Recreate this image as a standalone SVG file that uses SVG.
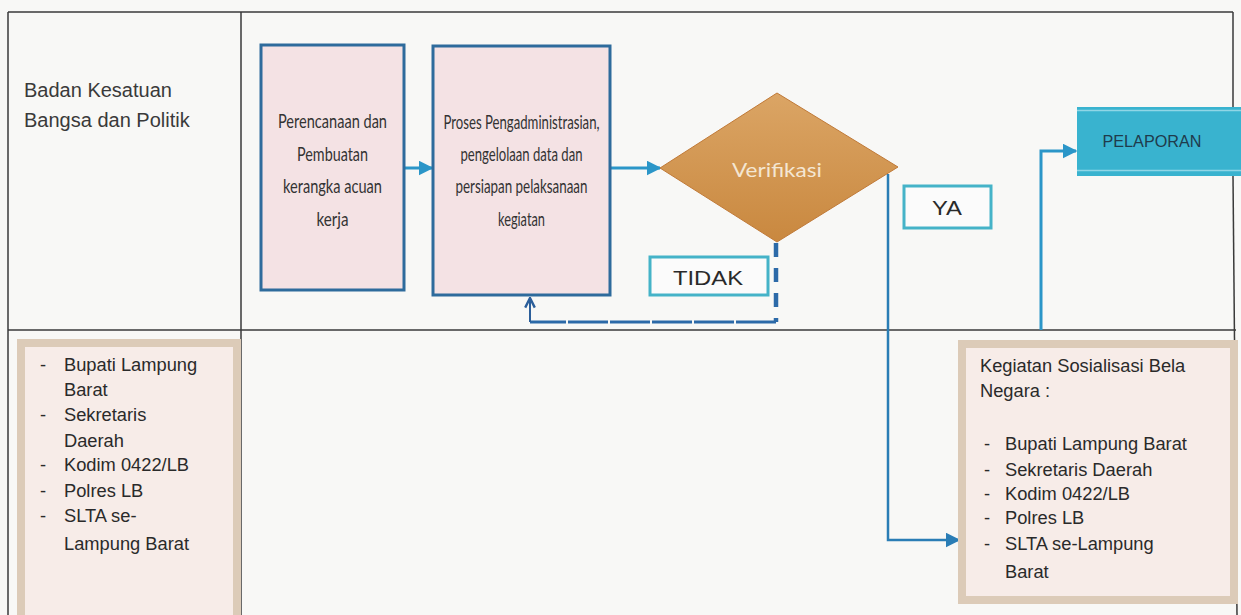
<svg xmlns="http://www.w3.org/2000/svg" width="1241" height="615" viewBox="0 0 1241 615">
<defs>
<style>
.lane{stroke:#3a3a3a;stroke-width:1.5;fill:none}
.proc{fill:#f4e2e4;stroke:#2e6b9c;stroke-width:3}
.ptxt{font-family:Lato,"Open Sans",sans-serif;font-size:20px;fill:#333333;text-anchor:middle}
.lab{fill:#fbfbfb;stroke:#45b3c8;stroke-width:3}
.ltxt{font-family:"Liberation Sans",Arial,sans-serif;font-size:21px;fill:#2a2a2a;text-anchor:middle}
.note{fill:#f7ece8;stroke:#dccbb8;stroke-width:8}
.ntxt{font-family:"Liberation Sans",Arial,sans-serif;font-size:18.3px;fill:#2a2a2a}
.btxt{font-family:"Liberation Sans",Arial,sans-serif;font-size:20px;fill:#3a3a3a}
.flow{stroke:#2b96c8;stroke-width:3;fill:none}
.flow2{stroke:#2a7db5;stroke-width:2.5;fill:none}
</style>
<marker id="ah" viewBox="0 0 10 10" refX="9" refY="5" markerWidth="5" markerHeight="5" orient="auto" markerUnits="strokeWidth">
<path d="M0,0 L10,5 L0,10 Z" fill="#2b96c8"/>
</marker>
<marker id="ah2" viewBox="0 0 10 10" refX="9" refY="5" markerWidth="6" markerHeight="6" orient="auto" markerUnits="strokeWidth">
<path d="M0,0 L10,5 L0,10 Z" fill="#2a7db5"/>
</marker>
<marker id="chev" viewBox="0 0 10 10" refX="9" refY="5" markerWidth="6" markerHeight="6" orient="auto" markerUnits="strokeWidth">
<path d="M1,1 L9,5 L1,9" fill="none" stroke="#2c5f9a" stroke-width="2"/>
</marker>
<linearGradient id="dg" x1="0" y1="0" x2="0" y2="1">
<stop offset="0" stop-color="#dba565"/>
<stop offset="1" stop-color="#c9883f"/>
</linearGradient>
</defs>
<rect x="0" y="0" width="1241" height="615" fill="#f8f8f6"/>

<g id="lanes">
<line class="lane" x1="8" y1="12" x2="1233" y2="12"/>
<line class="lane" x1="8" y1="12" x2="8" y2="615"/>
<line class="lane" x1="241" y1="12" x2="241" y2="615"/>
<line class="lane" x1="8" y1="330" x2="1236" y2="330"/>
<line class="lane" x1="1233" y1="12" x2="1233" y2="107"/>
<line class="lane" x1="1233" y1="176" x2="1237" y2="615"/>
</g>

<g id="lane-label">
<text class="btxt" x="24" y="97">Badan Kesatuan</text>
<text class="btxt" x="24" y="127">Bangsa dan Politik</text>
</g>

<g id="connectors">
<line class="flow" x1="397" y1="168" x2="432" y2="168" marker-end="url(#ah)"/>
<line class="flow" x1="611" y1="168" x2="660" y2="168" marker-end="url(#ah)"/>
<line x1="776" y1="243" x2="776" y2="322" stroke="#2c6aa8" stroke-width="4.5" stroke-dasharray="14,11"/>
<path d="M776,322 L530,322" stroke="#2c6aa8" stroke-width="3" fill="none" stroke-dasharray="40,2"/>
<path d="M530,322 L530,298" stroke="#2c5f9a" stroke-width="2" fill="none" marker-end="url(#chev)"/>
<polyline class="flow2" points="888,174 888,540 959,540" marker-end="url(#ah2)"/>
<polyline class="flow" points="1041,330 1041,151 1076,151" marker-end="url(#ah)"/>
</g>

<g id="n-perencanaan">
<rect class="proc" x="261" y="45" width="143" height="245"/>
<text class="ptxt" x="332.5" y="128" textLength="109" lengthAdjust="spacingAndGlyphs">Perencanaan dan</text>
<text class="ptxt" x="332.5" y="161" textLength="71" lengthAdjust="spacingAndGlyphs">Pembuatan</text>
<text class="ptxt" x="332.5" y="193" textLength="99" lengthAdjust="spacingAndGlyphs">kerangka acuan</text>
<text class="ptxt" x="332.5" y="226" textLength="32" lengthAdjust="spacingAndGlyphs">kerja</text>
</g>

<g id="n-proses">
<rect class="proc" x="433" y="46" width="177" height="249"/>
<text class="ptxt" x="521.5" y="129" textLength="156" lengthAdjust="spacingAndGlyphs">Proses Pengadministrasian,</text>
<text class="ptxt" x="521.5" y="161" textLength="122" lengthAdjust="spacingAndGlyphs">pengelolaan data dan</text>
<text class="ptxt" x="521.5" y="193" textLength="132" lengthAdjust="spacingAndGlyphs">persiapan pelaksanaan</text>
<text class="ptxt" x="521.5" y="226" textLength="47" lengthAdjust="spacingAndGlyphs">kegiatan</text>
</g>

<g id="n-verifikasi">
<polygon points="660,168 777,93 898,167 777,242" fill="url(#dg)" stroke="#c07a38" stroke-width="1"/>
<text x="777" y="177" font-family="Lato,'Open Sans',sans-serif" font-size="20" fill="#f4e6d2" text-anchor="middle" textLength="90" lengthAdjust="spacingAndGlyphs">Verifikasi</text>
</g>

<g id="n-tidak">
<rect class="lab" x="650" y="257" width="118" height="38"/>
<text class="ltxt" x="708" y="285" textLength="70" lengthAdjust="spacingAndGlyphs">TIDAK</text>
</g>

<g id="n-ya">
<rect class="lab" x="904" y="186" width="87" height="42"/>
<text class="ltxt" x="947" y="215" textLength="30" lengthAdjust="spacingAndGlyphs">YA</text>
</g>

<g id="n-pelaporan">
<rect x="1077" y="107" width="164" height="69" fill="#39b3cf"/>
<line x1="1077" y1="110.5" x2="1241" y2="110.5" stroke="#8fd6e6" stroke-width="1.5"/>
<line x1="1077" y1="170.5" x2="1241" y2="170.5" stroke="#8fd6e6" stroke-width="1.5"/>
<text x="1152" y="147" font-family="'Liberation Sans',Arial,sans-serif" font-size="16" fill="#1f3b4c" text-anchor="middle" textLength="99" lengthAdjust="spacingAndGlyphs">PELAPORAN</text>
</g>

<g id="n-peserta">
<rect class="note" x="21" y="343" width="216" height="280"/>
<text class="ntxt" x="40" y="371">-</text><text class="ntxt" x="64" y="371">Bupati Lampung</text>
<text class="ntxt" x="64" y="396">Barat</text>
<text class="ntxt" x="40" y="421">-</text><text class="ntxt" x="64" y="421">Sekretaris</text>
<text class="ntxt" x="64" y="447">Daerah</text>
<text class="ntxt" x="40" y="471">-</text><text class="ntxt" x="64" y="471">Kodim 0422/LB</text>
<text class="ntxt" x="40" y="497">-</text><text class="ntxt" x="64" y="497">Polres LB</text>
<text class="ntxt" x="40" y="522" font-size="16">-</text><text class="ntxt" x="64" y="522" font-size="16">SLTA se-</text>
<text class="ntxt" x="64" y="550">Lampung Barat</text>
</g>

<g id="n-kegiatan">
<rect class="note" x="962" y="344" width="272" height="256"/>
<text class="ntxt" x="980" y="372">Kegiatan Sosialisasi Bela</text>
<text class="ntxt" x="980" y="397">Negara :</text>
<text class="ntxt" x="984" y="450">-</text><text class="ntxt" x="1005" y="450">Bupati Lampung Barat</text>
<text class="ntxt" x="984" y="476">-</text><text class="ntxt" x="1005" y="476">Sekretaris Daerah</text>
<text class="ntxt" x="984" y="500">-</text><text class="ntxt" x="1005" y="500">Kodim 0422/LB</text>
<text class="ntxt" x="984" y="524">-</text><text class="ntxt" x="1005" y="524">Polres LB</text>
<text class="ntxt" x="984" y="550">-</text><text class="ntxt" x="1005" y="550">SLTA se-Lampung</text>
<text class="ntxt" x="1005" y="578">Barat</text>
</g>
</svg>
